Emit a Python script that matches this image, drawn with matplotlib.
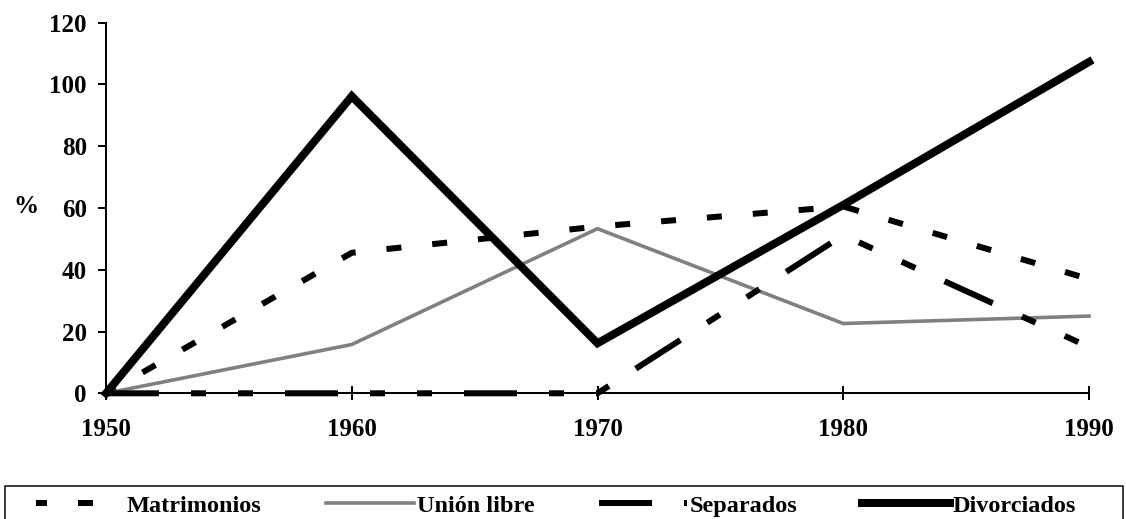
import matplotlib
matplotlib.use("Agg")
import matplotlib.pyplot as plt
from matplotlib.patches import Rectangle

plt.rcParams['font.family'] = ['Liberation Serif', 'DejaVu Serif']
plt.rcParams['font.weight'] = 'bold'
plt.rcParams['lines.scale_dashes'] = False

years = [1950, 1960, 1970, 1980, 1990]
matrimonios = [0, 45.5, 54, 60.5, 37]
union_libre = [0, 15.8, 53.3, 22.6, 25]
separados = [0, 0, 0, 51.2, 15]
divorciados = [0, 96.2, 16.2, 61, 107.3]

series_names = ['Matrimonios', 'Unión libre', 'Separados', 'Divorciados']
y_ticks = [0, 20, 40, 60, 80, 100, 120]

W, H = 1126, 519
fig = plt.figure(figsize=(W / 100, H / 100), dpi=100)
ax = fig.add_axes([106 / W, (H - 393.3) / H, (1089 - 106) / W, (393.3 - 22.7) / H])

px = 0.72  # points per pixel at 100 dpi

l1, = ax.plot(years, matrimonios, color='black', lw=6 * px,
              linestyle=(4 * px, (15 * px, 31 * px)),
              clip_on=False, label=series_names[0])
l2, = ax.plot(years, union_libre, color='#808080', lw=3.6 * px,
              clip_on=False, label=series_names[1], solid_joinstyle='miter')
l3, = ax.plot(years, separados, color='black', lw=6 * px,
              linestyle=(0, (53 * px, 32 * px, 15 * px, 32 * px, 15 * px, 32 * px)),
              clip_on=False, label=series_names[2])
l4, = ax.plot(years, divorciados, color='black', lw=8 * px,
              clip_on=False, label=series_names[3], solid_joinstyle='miter')

ax.set_xlim(1950, 1990)
ax.set_ylim(0, 120)
ax.set_xticks(years)
ax.set_xticklabels([str(y) for y in years])
ax.set_yticks(y_ticks)
ax.set_yticklabels([str(v) for v in y_ticks])

for s in ['top', 'right']:
    ax.spines[s].set_visible(False)
for s in ['left', 'bottom']:
    ax.spines[s].set_linewidth(2 * px)
    ax.spines[s].set_zorder(1)

ax.tick_params(axis='y', direction='out', length=8 * px, width=2 * px,
               labelsize=18, pad=8)
ax.tick_params(axis='x', direction='inout', length=14 * px, width=2 * px,
               labelsize=18, pad=13)
for lab in ax.get_xticklabels() + ax.get_yticklabels():
    lab.set_fontweight('bold')

ax.set_ylabel('%', rotation=0, fontsize=18, fontweight='bold', va='center', ha='center')
ax.yaxis.set_label_coords(-0.0814, 0.503)

# legend frame (extends below the figure edge, as in the reference)
frame = Rectangle((5 / W, -0.02), 1118 / W, (H - 486) / H + 0.02,
                  transform=fig.transFigure, fill=False, edgecolor='black',
                  linewidth=1.5 * px)
fig.patches.append(frame)

fs = 17.5
leg = fig.legend(handles=[l1, l2, l3, l4], loc='upper left',
                 bbox_to_anchor=(27.5 / W, (H - 486) / H),
                 ncol=4, fontsize=fs, frameon=False,
                 handlelength=88 / (fs / px), handletextpad=0.1,
                 columnspacing=65 / (fs / px), borderpad=0.35, borderaxespad=0)
for t in leg.get_texts():
    t.set_fontweight('bold')

fig.savefig('out.png', dpi=100)
